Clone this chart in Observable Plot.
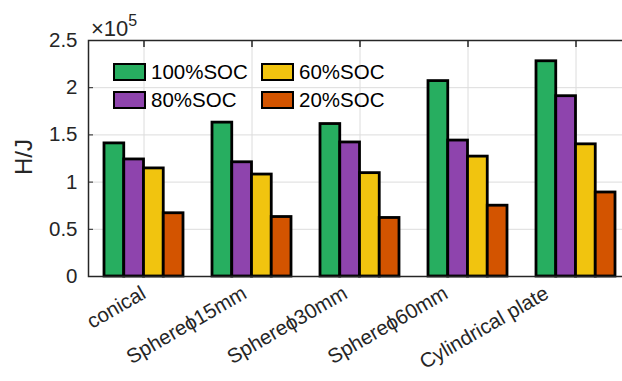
<!DOCTYPE html>
<html>
<head>
<meta charset="utf-8">
<script src="https://cdn.jsdelivr.net/npm/d3@7"></script>
<script src="https://cdn.jsdelivr.net/npm/@observablehq/plot@0.6"></script>
<style>
  html, body { margin: 0; padding: 0; background: #fff; overflow: hidden; }
  #wrap { position: relative; width: 622px; height: 381px; overflow: hidden; font-family: "Liberation Sans", Arial, sans-serif; }
  #chart svg { max-width: none !important; display: block; }
  #chart svg g[aria-label="y-axis tick label"] text { font-size: 20.5px !important; }
  #chart svg g[aria-label="x-axis tick label"] text { font-size: 20.5px !important; }
  #legend { position: absolute; left: 113px; top: 62px; display: grid; grid-template-columns: 148px 130px; row-gap: 9px; font-size: 20.5px; color: #000; }
  #legend .item { display: flex; align-items: center; height: 19px; }
  #legend .sw { width: 29px; height: 14px; border: 2.5px solid #000; margin-right: 5px; box-sizing: content-box; }
</style>
</head>
<body>
<div id="wrap"><div id="chart"></div><div id="legend"></div></div>
<script>
const categories = ["conical", "Sphere\u03d515mm", "Sphere\u03d530mm", "Sphere\u03d560mm", "Cylindrical plate"];
const seriesNames = ["100%SOC", "80%SOC", "60%SOC", "20%SOC"];
const seriesColors = ["#27AE60", "#8E44AD", "#F1C40F", "#D35400"];
const soc100 = [1.41, 1.63, 1.615, 2.07, 2.28];
const soc80  = [1.24, 1.21, 1.42, 1.44, 1.91];
const soc60  = [1.145, 1.08, 1.095, 1.27, 1.40];
const soc20  = [0.67, 0.63, 0.62, 0.75, 0.89];
const yTicks = [0, 0.5, 1, 1.5, 2, 2.5];
const yTickLabels = ["0", "0.5", "1", "1.5", "2", "2.5"];

const seriesValues = [soc100, soc80, soc60, soc20];
const tables = seriesValues.map((vals, j) => categories.map((c, i) => ({cat: c, v: vals[i], s: seriesNames[j]})));

const bandPx = 79; // width of one group of bars in pixels
const barPx = bandPx / 4;
const axisColor = "#262626";

const barMarks = tables.map((t, j) => Plot.barY(t, {
  x: "cat", y: "v", fill: seriesColors[j], stroke: "#000", strokeWidth: 2.8,
  insetLeft: j * barPx, insetRight: (3 - j) * barPx
}));

const chart = Plot.plot({
  width: 640, height: 381,
  marginLeft: 88, marginRight: 10, marginTop: 40, marginBottom: 105,
  style: {fontFamily: "'Liberation Sans', Arial, sans-serif", color: axisColor, background: "#fff"},
  x: {type: "band", domain: categories, paddingInner: 0.27, paddingOuter: 0.144},
  y: {domain: [0, 2.5]},
  marks: [
    Plot.gridY(yTicks, {stroke: "#dcdcdc", strokeOpacity: 1, strokeWidth: 1}),
    Plot.gridX({stroke: "#dcdcdc", strokeOpacity: 1, strokeWidth: 1}),
    ...barMarks,
    Plot.axisY({ticks: yTicks, tickFormat: (d, i) => yTickLabels[i], tickSize: -5, tickPadding: 16, label: null, stroke: axisColor}),
    Plot.axisX({anchor: "top", tickSize: -6, tickFormat: () => "", label: null, stroke: axisColor, strokeWidth: 1.5}),
    Plot.axisX({anchor: "bottom", tickSize: 0, tickRotate: -30, tickPadding: 15, label: null}),
    Plot.frame({stroke: axisColor, strokeWidth: 1.5})
  ]
});
document.getElementById("chart").appendChild(chart);

const svg = d3.select(chart);
// nudge the rotated category labels as in the reference
svg.selectAll('g[aria-label="x-axis tick label"]').each(function () {
  d3.select(this).selectAll("text").each(function (d, i) {
    const t = this.getAttribute("transform") || "";
    this.setAttribute("transform", `translate(${-7.3 * i},0) ${t}`);
  });
});
// y-axis label
svg.append("text")
  .attr("transform", "translate(32,157) rotate(-90)")
  .attr("text-anchor", "middle")
  .attr("fill", axisColor)
  .attr("font-size", 24)
  .style("font-size", "24px", "important")
  .text("H/J");
// exponent label
const ex = svg.append("text")
  .attr("x", 91).attr("y", 36)
  .attr("text-anchor", "start")
  .attr("fill", axisColor)
  .attr("font-size", 22)
  .style("font-size", "22px", "important");
ex.append("tspan").text("\u00d710");
ex.append("tspan").attr("dy", -10).attr("font-size", 16).style("font-size", "16px", "important").text("5");

const legend = d3.select("#legend");
const order = [0, 2, 1, 3];
order.forEach(j => {
  const item = legend.append("div").attr("class", "item");
  item.append("div").attr("class", "sw").style("background", seriesColors[j]);
  item.append("span").text(seriesNames[j]);
});
</script>
</body>
</html>
